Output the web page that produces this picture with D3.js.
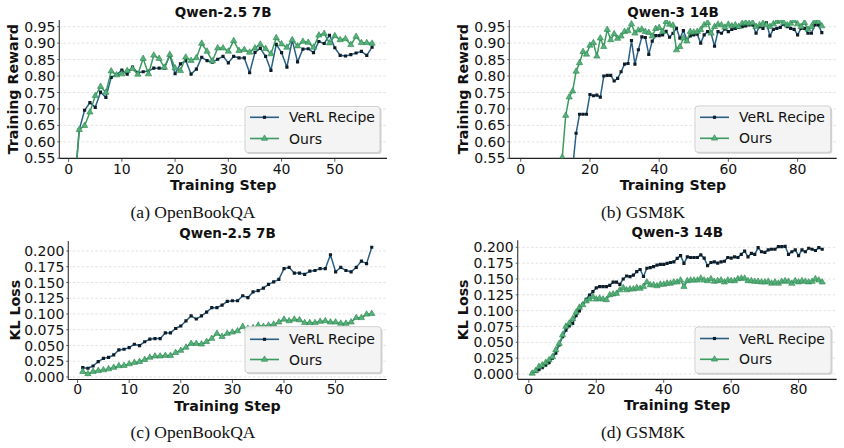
<!DOCTYPE html>
<html>
<head>
<meta charset="utf-8">
<script src="https://cdn.jsdelivr.net/npm/d3@7"></script>
<style>
  html, body { margin: 0; padding: 0; background: #fff; }
  svg { display: block; }
</style>
</head>
<body>
<svg id="fig" width="844" height="448"></svg>
<script>
// ---------------- DATA ----------------
const seriesNames = ["VeRL Recipe", "Ours"];

// (a) OpenBookQA – Qwen-2.5 7B – Training Reward (steps 1..57)
const rewardVerlA = [0.44,0.637,0.696,0.719,0.705,0.751,0.735,0.796,0.804,0.818,0.806,0.827,0.81,0.813,0.815,0.824,0.824,0.824,0.863,0.807,0.837,0.847,0.806,0.821,0.857,0.847,0.842,0.851,0.86,0.84,0.86,0.855,0.855,0.81,0.872,0.884,0.86,0.817,0.896,0.871,0.827,0.909,0.843,0.882,0.883,0.871,0.905,0.899,0.924,0.886,0.863,0.861,0.865,0.87,0.875,0.863,0.888];
const rewardOursA = [0.44,0.637,0.649,0.69,0.74,0.768,0.75,0.815,0.803,0.806,0.816,0.822,0.805,0.853,0.806,0.863,0.853,0.826,0.865,0.824,0.816,0.857,0.847,0.855,0.899,0.875,0.845,0.885,0.885,0.875,0.907,0.877,0.88,0.872,0.885,0.896,0.883,0.867,0.916,0.897,0.887,0.91,0.891,0.905,0.902,0.887,0.924,0.929,0.9,0.922,0.91,0.913,0.895,0.92,0.901,0.901,0.899];

// (b) GSM8K – Qwen-3 14B – Training Reward (steps 1..87)
const rewardVerlB = [0.2,0.22,0.25,0.27,0.3,0.32,0.34,0.36,0.38,0.4,0.42,0.45,0.47,0.5,0.52,0.626,0.684,0.684,0.684,0.744,0.74,0.742,0.736,0.8,0.802,0.802,0.785,0.793,0.813,0.836,0.838,0.908,0.836,0.88,0.919,0.917,0.866,0.906,0.923,0.923,0.925,0.936,0.918,0.93,0.945,0.915,0.938,0.91,0.922,0.925,0.927,0.9,0.925,0.935,0.93,0.891,0.935,0.93,0.943,0.935,0.942,0.945,0.948,0.95,0.952,0.955,0.955,0.93,0.95,0.945,0.962,0.922,0.942,0.945,0.948,0.958,0.95,0.945,0.942,0.925,0.945,0.945,0.93,0.93,0.955,0.955,0.932];
const rewardOursB = [0.05,0.08,0.1,0.13,0.16,0.2,0.25,0.3,0.35,0.4,0.45,0.553,0.68,0.736,0.754,0.814,0.84,0.874,0.866,0.893,0.901,0.86,0.915,0.889,0.941,0.91,0.928,0.914,0.921,0.935,0.937,0.958,0.93,0.939,0.942,0.935,0.932,0.921,0.944,0.947,0.935,0.965,0.957,0.954,0.879,0.889,0.915,0.906,0.935,0.933,0.935,0.94,0.955,0.962,0.93,0.95,0.957,0.955,0.948,0.957,0.952,0.955,0.95,0.96,0.962,0.96,0.962,0.95,0.955,0.96,0.955,0.95,0.958,0.965,0.968,0.962,0.955,0.96,0.968,0.958,0.95,0.962,0.942,0.95,0.967,0.965,0.952];

// (c) OpenBookQA – Qwen-2.5 7B – KL Loss (steps 1..57)
const klVerlC = [0.0148,0.0138,0.0175,0.0243,0.0296,0.031,0.035,0.043,0.044,0.0466,0.052,0.0497,0.056,0.06,0.061,0.061,0.07,0.07,0.077,0.081,0.089,0.097,0.092,0.097,0.103,0.11,0.11,0.114,0.12,0.121,0.121,0.129,0.126,0.135,0.137,0.141,0.147,0.151,0.155,0.172,0.174,0.165,0.165,0.163,0.168,0.169,0.172,0.172,0.194,0.167,0.174,0.169,0.167,0.174,0.184,0.18,0.206];
const klOursC = [0.0085,0.005,0.0085,0.01,0.011,0.0127,0.015,0.0175,0.018,0.0206,0.0228,0.0243,0.0275,0.031,0.033,0.033,0.034,0.034,0.0386,0.042,0.047,0.053,0.053,0.052,0.056,0.061,0.069,0.064,0.069,0.071,0.073,0.08,0.077,0.078,0.082,0.08,0.082,0.0836,0.087,0.0915,0.089,0.0915,0.0905,0.086,0.086,0.086,0.088,0.089,0.087,0.087,0.085,0.085,0.087,0.094,0.094,0.0995,0.1005];

// (d) GSM8K – Qwen-3 14B – KL Loss (steps 1..87)
const klVerlD = [0.001,0.004,0.007,0.01,0.014,0.018,0.025,0.033,0.046,0.059,0.069,0.076,0.08,0.092,0.0995,0.11,0.118,0.1247,0.13,0.136,0.138,0.138,0.138,0.14,0.145,0.145,0.1415,0.15,0.1547,0.1537,0.156,0.1616,0.165,0.154,0.167,0.168,0.1695,0.172,0.173,0.173,0.1747,0.176,0.177,0.1826,0.187,0.1747,0.185,0.184,0.184,0.184,0.188,0.183,0.171,0.176,0.177,0.175,0.177,0.178,0.184,0.183,0.185,0.184,0.189,0.194,0.185,0.1905,0.189,0.1995,0.193,0.192,0.196,0.197,0.197,0.201,0.201,0.2016,0.189,0.193,0.196,0.187,0.196,0.193,0.1985,0.197,0.195,0.1995,0.197];
const klOursD = [0.001,0.005,0.0116,0.014,0.018,0.022,0.027,0.038,0.048,0.0616,0.075,0.08,0.087,0.097,0.105,0.109,0.115,0.118,0.122,0.118,0.1195,0.118,0.117,0.1247,0.126,0.127,0.1326,0.136,0.1326,0.134,0.134,0.136,0.135,0.138,0.145,0.1405,0.1405,0.139,0.1415,0.1415,0.143,0.143,0.145,0.145,0.148,0.138,0.147,0.148,0.148,0.148,0.151,0.148,0.147,0.15,0.146,0.147,0.148,0.145,0.148,0.147,0.147,0.15,0.151,0.151,0.147,0.147,0.146,0.146,0.145,0.145,0.146,0.143,0.145,0.143,0.146,0.147,0.146,0.143,0.147,0.145,0.147,0.146,0.145,0.146,0.15,0.148,0.145];

const xTicks57 = [0, 10, 20, 30, 40, 50];
const xTicks87 = [0, 20, 40, 60, 80];
const yTicksReward = [0.55, 0.60, 0.65, 0.70, 0.75, 0.80, 0.85, 0.90, 0.95];
const yTicksKL = [0.000, 0.025, 0.050, 0.075, 0.100, 0.125, 0.150, 0.175, 0.200];

const titles = ["Qwen-2.5 7B", "Qwen-3 14B", "Qwen-2.5 7B", "Qwen-3 14B"];
const yLabels = ["Training Reward", "Training Reward", "KL Loss", "KL Loss"];
const xLabel = "Training Step";
const captions = ["(a) OpenBookQA", "(b) GSM8K", "(c) OpenBookQA", "(d) GSM8K"];

// ---------------- STYLE / LAYOUT ----------------
const BLUE = "#2a5f84", BLUE_MK = "#0e1c28";
const GREEN = "#3a9c5e", GREEN_MK = "#55b079", GREEN_EDGE = "#2c8750";
const SANS = "'DejaVu Sans', sans-serif";
const SERIF = "'Liberation Serif', 'Times New Roman', serif";

const panels = [
  { verl: rewardVerlA, ours: rewardOursA, xTicks: xTicks57, yTicks: yTicksReward, fmt: ".2f",
    l: 59.3, r: 387, t: 20.1, b: 158.3, xDom: [-1.75, 59.8], yDom: [0.55, 0.97],
    yLabX: 17.5, tickBase: 15.6, xLabBase: 31.4, legend: { x: 245, y: 106.5, w: 135, h: 46, r1: 117.3, r2: 138.5 },
    capX: 193, capY: 218 },
  { verl: rewardVerlB, ours: rewardOursB, xTicks: xTicks87, yTicks: yTicksReward, fmt: ".2f",
    l: 509.3, r: 836.7, t: 20.1, b: 158.3, xDom: [-3.3, 91.3], yDom: [0.55, 0.97],
    yLabX: 467.5, tickBase: 15.6, xLabBase: 31.4, legend: { x: 695, y: 106, w: 135.7, h: 46.3, r1: 117.3, r2: 138.3 },
    capX: 643, capY: 218 },
  { verl: klVerlC, ours: klOursC, xTicks: xTicks57, yTicks: yTicksKL, fmt: ".3f",
    l: 68.3, r: 386.7, t: 241, b: 379.5, xDom: [-1.8, 59.9], yDom: [-0.004, 0.2159],
    yLabX: 19.5, tickBase: 14.6, xLabBase: 31, legend: { x: 245, y: 326.7, w: 136, h: 46, r1: 339.3, r2: 359.5 },
    capX: 193, capY: 438 },
  { verl: klVerlD, ours: klOursD, xTicks: xTicks87, yTicks: yTicksKL, fmt: ".3f",
    l: 517.7, r: 836.7, t: 240.3, b: 379.3, xDom: [-3.3, 91.3], yDom: [-0.0084, 0.2111],
    yLabX: 468, tickBase: 15, xLabBase: 31, legend: { x: 695, y: 327, w: 136, h: 46.3, r1: 338.5, r2: 359.3 },
    capX: 643, capY: 438 }
];

const svg = d3.select("#fig");
const defs = svg.append("defs");

const tri = d3.symbol().type(d3.symbolTriangle).size(17);
const sq = d3.symbol().type(d3.symbolSquare).size(10);

panels.forEach((p, pi) => {
  const x = d3.scaleLinear().domain(p.xDom).range([p.l, p.r]);
  const y = d3.scaleLinear().domain(p.yDom).range([p.b, p.t]);
  const g = svg.append("g");
  const clipId = "clip" + pi;
  defs.append("clipPath").attr("id", clipId)
    .append("rect").attr("x", p.l).attr("y", p.t).attr("width", p.r - p.l).attr("height", p.b - p.t);

  // grid
  g.append("g").selectAll("line").data(p.yTicks).join("line")
    .attr("x1", p.l).attr("x2", p.r)
    .attr("y1", d => y(d)).attr("y2", d => y(d))
    .attr("stroke", "#dcdcdc").attr("stroke-width", 0.8).attr("stroke-dasharray", "2.5,2");

  // y tick labels
  g.append("g").selectAll("text").data(p.yTicks).join("text")
    .attr("x", p.l - 4).attr("y", d => y(d)).attr("dy", "0.36em")
    .attr("text-anchor", "end").attr("font-family", SANS).attr("font-size", 14).attr("fill", "#111")
    .text(d => d3.format(p.fmt)(d));
  g.append("g").selectAll("line").data(p.yTicks).join("line")
    .attr("x1", p.l - 2).attr("x2", p.l).attr("y1", d => y(d)).attr("y2", d => y(d))
    .attr("stroke", "#333").attr("stroke-width", 0.8);

  // x ticks
  g.append("g").selectAll("line").data(p.xTicks).join("line")
    .attr("x1", d => x(d)).attr("x2", d => x(d)).attr("y1", p.b).attr("y2", p.b + 3.5)
    .attr("stroke", "#333").attr("stroke-width", 0.8);
  g.append("g").selectAll("text").data(p.xTicks).join("text")
    .attr("x", d => x(d)).attr("y", p.b + p.tickBase)
    .attr("text-anchor", "middle").attr("font-family", SANS).attr("font-size", 14).attr("fill", "#111")
    .text(d => d);

  // spines
  g.append("line").attr("x1", p.l).attr("x2", p.l).attr("y1", p.t).attr("y2", p.b)
    .attr("stroke", "#444").attr("stroke-width", 1.2);
  g.append("line").attr("x1", p.l).attr("x2", p.r).attr("y1", p.b).attr("y2", p.b)
    .attr("stroke", "#222").attr("stroke-width", 1.2);

  // series
  const plot = g.append("g").attr("clip-path", `url(#${clipId})`);
  const line = d3.line().x((d, i) => x(i + 1)).y(d => y(d));
  plot.append("path").datum(p.verl).attr("d", line)
    .attr("fill", "none").attr("stroke", BLUE).attr("stroke-width", 1.5).attr("stroke-linejoin", "round");
  plot.append("g").selectAll("path").data(p.verl).join("path")
    .attr("transform", (d, i) => `translate(${x(i + 1)},${y(d)})`)
    .attr("d", sq).attr("fill", BLUE_MK);
  plot.append("path").datum(p.ours).attr("d", line)
    .attr("fill", "none").attr("stroke", GREEN).attr("stroke-width", 1.5).attr("stroke-linejoin", "round");
  plot.append("g").selectAll("path").data(p.ours).join("path")
    .attr("transform", (d, i) => `translate(${x(i + 1)},${y(d)})`)
    .attr("d", tri).attr("fill", GREEN_MK).attr("stroke", GREEN_EDGE).attr("stroke-width", 0.6);

  // title
  g.append("text").attr("x", (p.l + p.r) / 2).attr("y", p.t - 3.5)
    .attr("text-anchor", "middle").attr("font-family", SANS).attr("font-weight", "bold")
    .attr("font-size", 13.5).attr("fill", "#111").text(titles[pi]);

  // axis labels
  g.append("text").attr("x", (p.l + p.r) / 2).attr("y", p.b + p.xLabBase)
    .attr("text-anchor", "middle").attr("font-family", SANS).attr("font-weight", "bold")
    .attr("font-size", 14.2).attr("fill", "#111").text(xLabel);
  g.append("text")
    .attr("transform", `translate(${p.yLabX},${(p.t + p.b) / 2}) rotate(-90)`)
    .attr("text-anchor", "middle").attr("font-family", SANS).attr("font-weight", "bold")
    .attr("font-size", 14.2).attr("fill", "#111").text(yLabels[pi]);

  // legend
  const L = p.legend;
  const lg = g.append("g");
  lg.append("rect").attr("x", L.x + 1.5).attr("y", L.y + 1.5).attr("width", L.w).attr("height", L.h)
    .attr("rx", 3).attr("fill", "#9a9a9a").attr("opacity", 0.45);
  lg.append("rect").attr("x", L.x).attr("y", L.y).attr("width", L.w).attr("height", L.h)
    .attr("rx", 3).attr("fill", "#f7f7f7").attr("fill-opacity", 0.9)
    .attr("stroke", "#cfcfcf").attr("stroke-width", 1);
  const rows = [
    { name: seriesNames[0], color: BLUE, y: L.r1, mk: sq, fill: BLUE_MK, edge: "none" },
    { name: seriesNames[1], color: GREEN, y: L.r2, mk: tri, fill: GREEN_MK, edge: GREEN_EDGE }
  ];
  rows.forEach(rw => {
    lg.append("line").attr("x1", L.x + 5).attr("x2", L.x + 34).attr("y1", rw.y).attr("y2", rw.y)
      .attr("stroke", rw.color).attr("stroke-width", 1.6);
    lg.append("path").attr("transform", `translate(${L.x + 19.5},${rw.y})`).attr("d", rw.mk)
      .attr("fill", rw.fill).attr("stroke", rw.edge).attr("stroke-width", 0.6);
    lg.append("text").attr("x", L.x + 44).attr("y", rw.y).attr("dy", "0.36em")
      .attr("font-family", SANS).attr("font-size", 14).attr("fill", "#111").text(rw.name);
  });

  // caption
  g.append("text").attr("x", p.capX).attr("y", p.capY).attr("text-anchor", "middle")
    .attr("font-family", SERIF).attr("font-size", 17.5).attr("fill", "#111").text(captions[pi]);
});
</script>
</body>
</html>
